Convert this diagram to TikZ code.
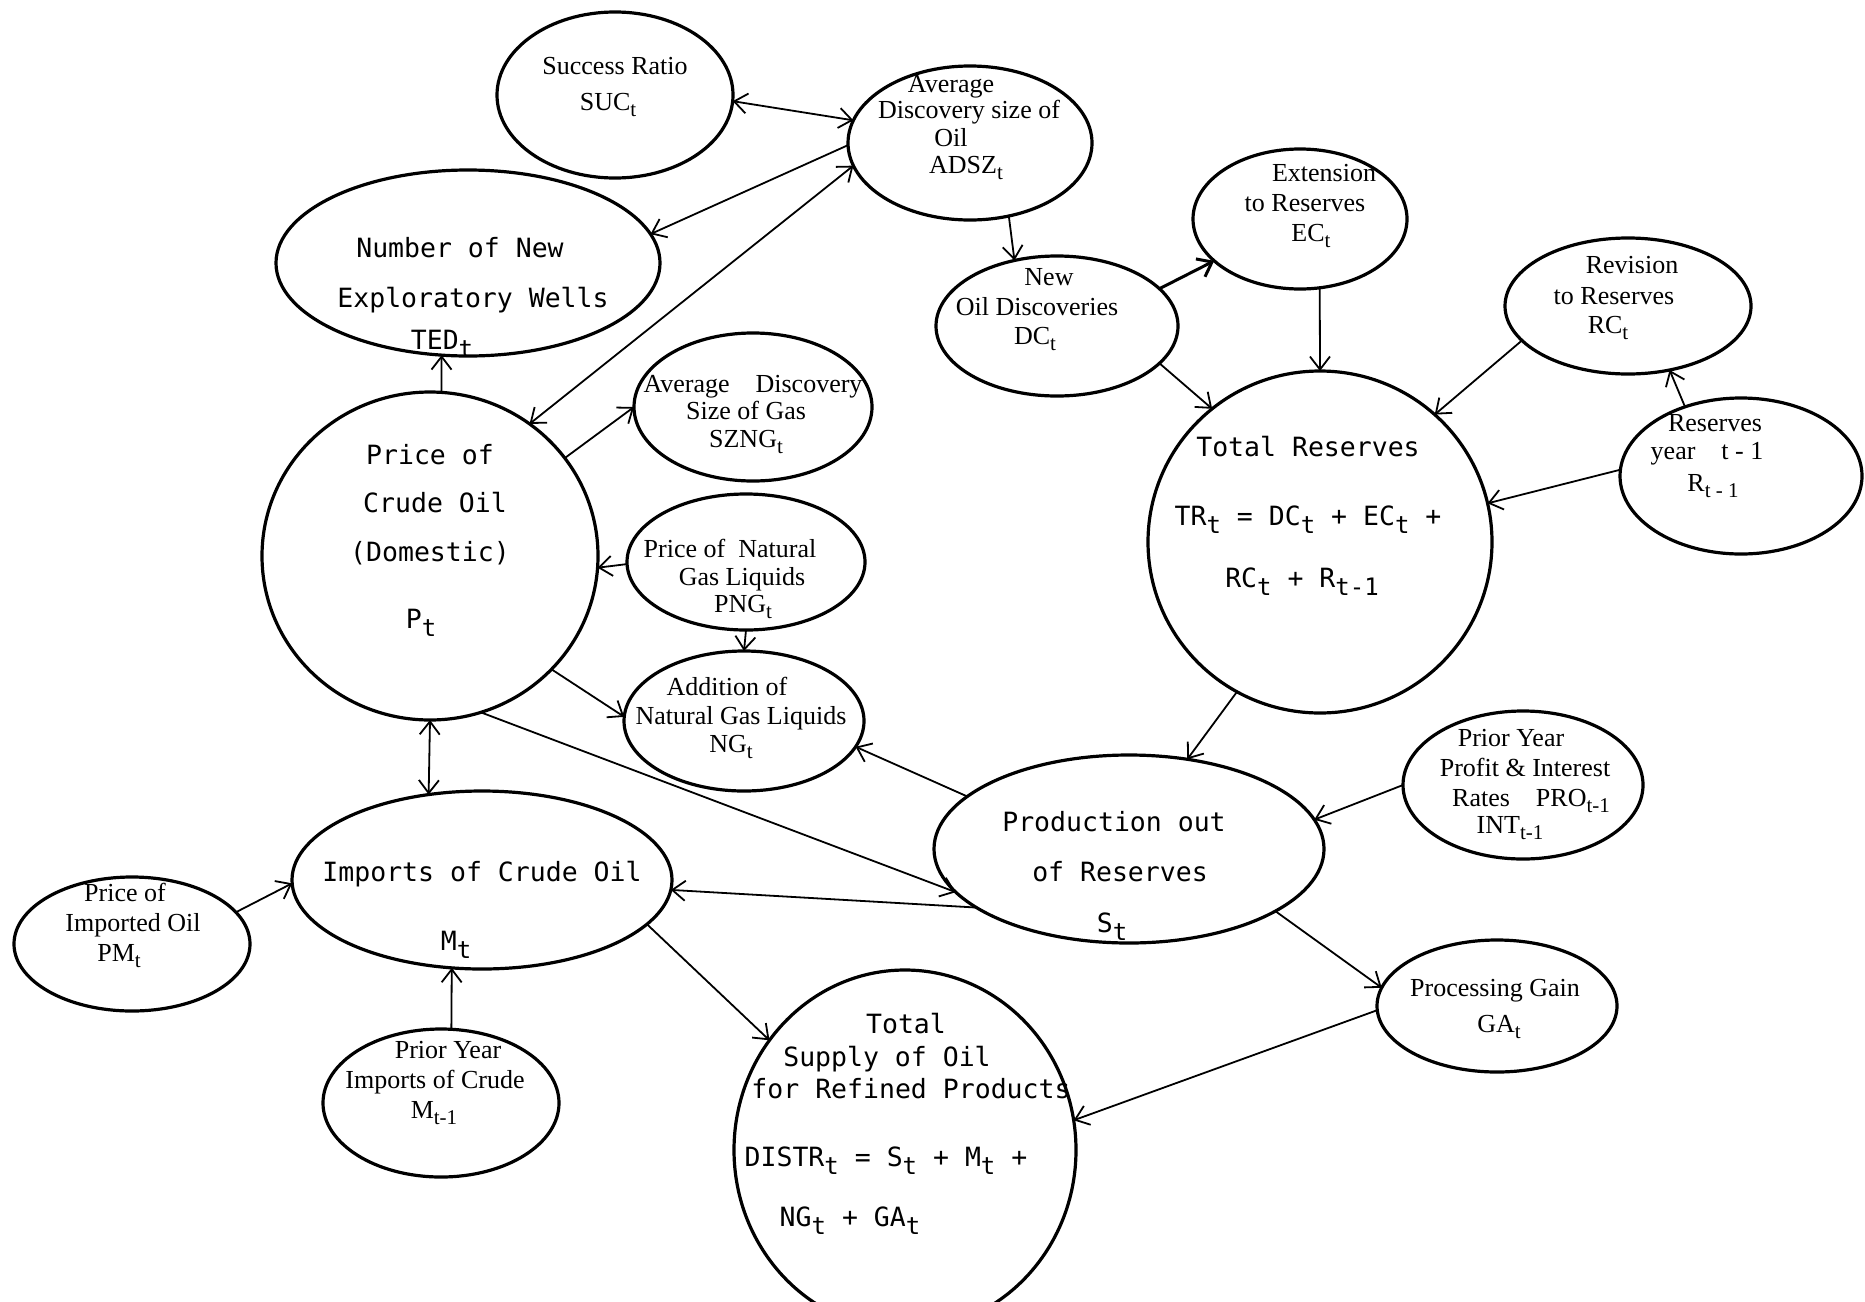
\documentclass[tikz,border=0pt]{standalone}
\usepackage{fontspec}
\setmainfont{Liberation Serif}
\newfontfamily\monofam{DejaVu Sans Mono}
\usetikzlibrary{shapes.geometric,arrows.meta}
\newcommand\lob[1]{\raisebox{-8pt}{\fontsize{24}{26}\selectfont#1}}
\newcommand\los[1]{\raisebox{-6pt}{\fontsize{21}{23}\selectfont#1}}
\begin{document}
\begin{tikzpicture}[x=1pt,y=-1pt,
  ell/.style={draw, ellipse, line width=3.2pt, inner sep=0pt, outer sep=0pt},
  sm/.style={anchor=base, inner sep=0pt, font=\fontsize{26}{30}\selectfont},
  bg/.style={anchor=base, inner sep=0pt, font=\monofam\fontsize{26.5}{30}\selectfont},
  con/.style={line width=1.8pt, -{Straight Barb[length=13pt,width=20pt]}},
  dcon/.style={line width=1.8pt, {Straight Barb[length=13pt,width=20pt]}-{Straight Barb[length=13pt,width=20pt]}},
]
\useasboundingbox (0,0) rectangle (1865,1301);
% ellipses
\node[ell,minimum width=236,minimum height=166] (suc) at (615,95) {};
\node[ell,minimum width=244,minimum height=154] (adsz) at (970,143) {};
\node[ell,minimum width=384,minimum height=186] (ted) at (468,263) {};
\node[ell,minimum width=336,minimum height=328] (price) at (430,556) {};
\node[ell,minimum width=238,minimum height=148] (szng) at (753,407) {};
\node[ell,minimum width=238,minimum height=136] (png) at (746,562) {};
\node[ell,minimum width=240,minimum height=140] (ng) at (744,721) {};
\node[ell,minimum width=242,minimum height=140] (dc) at (1057,326) {};
\node[ell,minimum width=214,minimum height=140] (ec) at (1300,219) {};
\node[ell,minimum width=246,minimum height=136] (rc) at (1628,306) {};
\node[ell,minimum width=242,minimum height=156] (rt) at (1741,476) {};
\node[ell,minimum width=344,minimum height=342] (tr) at (1320,542) {};
\node[ell,minimum width=390,minimum height=188] (prod) at (1129,849) {};
\node[ell,minimum width=240,minimum height=148] (pro) at (1523,785) {};
\node[ell,minimum width=380,minimum height=178] (imp) at (482,880) {};
\node[ell,minimum width=236,minimum height=134] (pm) at (132,944) {};
\node[ell,minimum width=236,minimum height=148] (pri) at (441,1103) {};
\node[ell,minimum width=342,minimum height=360] (ts) at (905,1150) {};
\node[ell,minimum width=240,minimum height=132] (ga) at (1497,1006) {};
% texts
\node[sm] (suc1) at (615,74) {Success Ratio};
\node[sm] (suc2) at (608,110) {SUC\los{t}};
\node[sm] (adsz1) at (951,92) {Average};
\node[sm] (adsz2) at (969,118) {Discovery size of};
\node[sm] (adsz3) at (951,146) {Oil};
\node[sm] (adsz4) at (966,173) {ADSZ\los{t}};
\node[bg] (ted1) at (460,257) {Number of New};
\node[bg] (ted2) at (473,307) {Exploratory Wells};
\node[bg] (ted3) at (442,349) {TED\lob{t}};
\node[bg] (pr1) at (430,464) {Price of};
\node[bg] (pr2) at (435,512) {Crude Oil};
\node[bg] (pr3) at (430,561) {(Domestic)};
\node[bg] (pr4) at (421,628) {P\lob{t}};
\node[sm] (sz1) at (753,392) {Average\quad Discovery};
\node[sm] (sz2) at (746,419) {Size of Gas};
\node[sm] (sz3) at (746,447) {SZNG\los{t}};
\node[sm] (png1) at (730,557) {Price of\ \ Natural};
\node[sm] (png2) at (742,585) {Gas Liquids};
\node[sm] (png3) at (743,612) {PNG\los{t}};
\node[sm] (ng1) at (727,695) {Addition of};
\node[sm] (ng2) at (741,724) {Natural Gas Liquids};
\node[sm] (ng3) at (731,752) {NG\los{t}};
\node[sm] (dc1) at (1049,285) {New};
\node[sm] (dc2) at (1037,315) {Oil Discoveries};
\node[sm] (dc3) at (1035,344) {DC\los{t}};
\node[sm] (ec1) at (1324,181) {Extension};
\node[sm] (ec2) at (1305,211) {to Reserves};
\node[sm] (ec3) at (1311,241) {EC\los{t}};
\node[sm] (rc1) at (1632,273) {Revision};
\node[sm] (rc2) at (1614,304) {to Reserves};
\node[sm] (rc3) at (1608,333) {RC\los{t}};
\node[sm] (rt1) at (1715,431) {Reserves};
\node[sm] (rt2) at (1707,459) {year\quad t - 1};
\node[sm] (rt3) at (1713,491) {R\los{t - 1}};
\node[bg] (tr1) at (1308,456) {Total Reserves};
\node[bg] (tr2) at (1308,525) {TR\lob{t} = DC\lob{t} + EC\lob{t} +};
\node[bg] (tr3) at (1302,587) {RC\lob{t} + R\lob{t-1}};
\node[bg] (pd1) at (1114,831) {Production out};
\node[bg] (pd2) at (1120,881) {of Reserves};
\node[bg] (pd3) at (1112,932) {S\lob{t}};
\node[sm] (pro1) at (1511,746) {Prior Year};
\node[sm] (pro2) at (1525,776) {Profit \& Interest};
\node[sm] (pro3) at (1531,806) {Rates\quad PRO\los{t-1}};
\node[sm] (pro4) at (1510,833) {INT\los{t-1}};
\node[bg] (im1) at (482,881) {Imports of Crude Oil};
\node[bg] (im2) at (456,950) {M\lob{t}};
\node[sm] (pm1) at (125,901) {Price of};
\node[sm] (pm2) at (133,931) {Imported Oil};
\node[sm] (pm3) at (119,961) {PM\los{t}};
\node[sm] (pri1) at (448,1058) {Prior Year};
\node[sm] (pri2) at (435,1088) {Imports of Crude};
\node[sm] (pri3) at (434,1118) {M\los{t-1}};
\node[bg] (ts1) at (906,1033) {Total};
\node[bg] (ts2) at (887,1066) {Supply of Oil};
\node[bg] (ts3) at (911,1098) {for Refined Products};
\node[bg] (ts4) at (886,1166) {DISTR\lob{t} = S\lob{t} + M\lob{t} +};
\node[bg] (ts5) at (850,1226) {NG\lob{t} + GA\lob{t}};
\node[sm] (ga1) at (1495,996) {Processing Gain};
\node[sm] (ga2) at (1499,1032) {GA\los{t}};
% connectors
\draw[dcon] (suc.-3) -- (adsz.169);
\draw[con] (adsz.181) -- (ted.9);
\draw[dcon] (price.53) -- (adsz.191);
\draw[con] (price.86) -- (ted.254);
\draw[con] (price.36) -- (szng.180);
\draw[con] (png.181) -- (price.-4);
\draw[con] (png.south) -- (ng.north);
\draw[con] (price.-43) -- (ng.178);
\draw[dcon] (price.-90) -- (imp.122);
\draw[con] (price.-72) -- (prod.194);
\draw[con] (prod.162) -- (ng.-13);
\draw[con] (prod.201) -- (imp.-3);
\draw[con] (adsz.-62) -- (dc.123);
\draw[con, line width=3pt] (dc.20) -- (ec.206);
\draw[con] (ec.-74) -- (tr.north);
\draw[con] (dc.-20) -- (tr.129);
\draw[con] (rc.198) -- (tr.48);
\draw[con] (rt.129) -- (rc.-57);
\draw[con] (rt.177) -- (tr.13);
\draw[con] (tr.-119) -- (prod.57);
\draw[con] (pro.180) -- (prod.9);
\draw[con] (prod.-23) -- (ga.171);
\draw[con] (ga.182) -- (ts.10);
\draw[con] (imp.-15) -- (ts.141);
\draw[con] (pm.17) -- (imp.181);
\draw[con] (pri.82) -- (imp.251);
\end{tikzpicture}
\end{document}
